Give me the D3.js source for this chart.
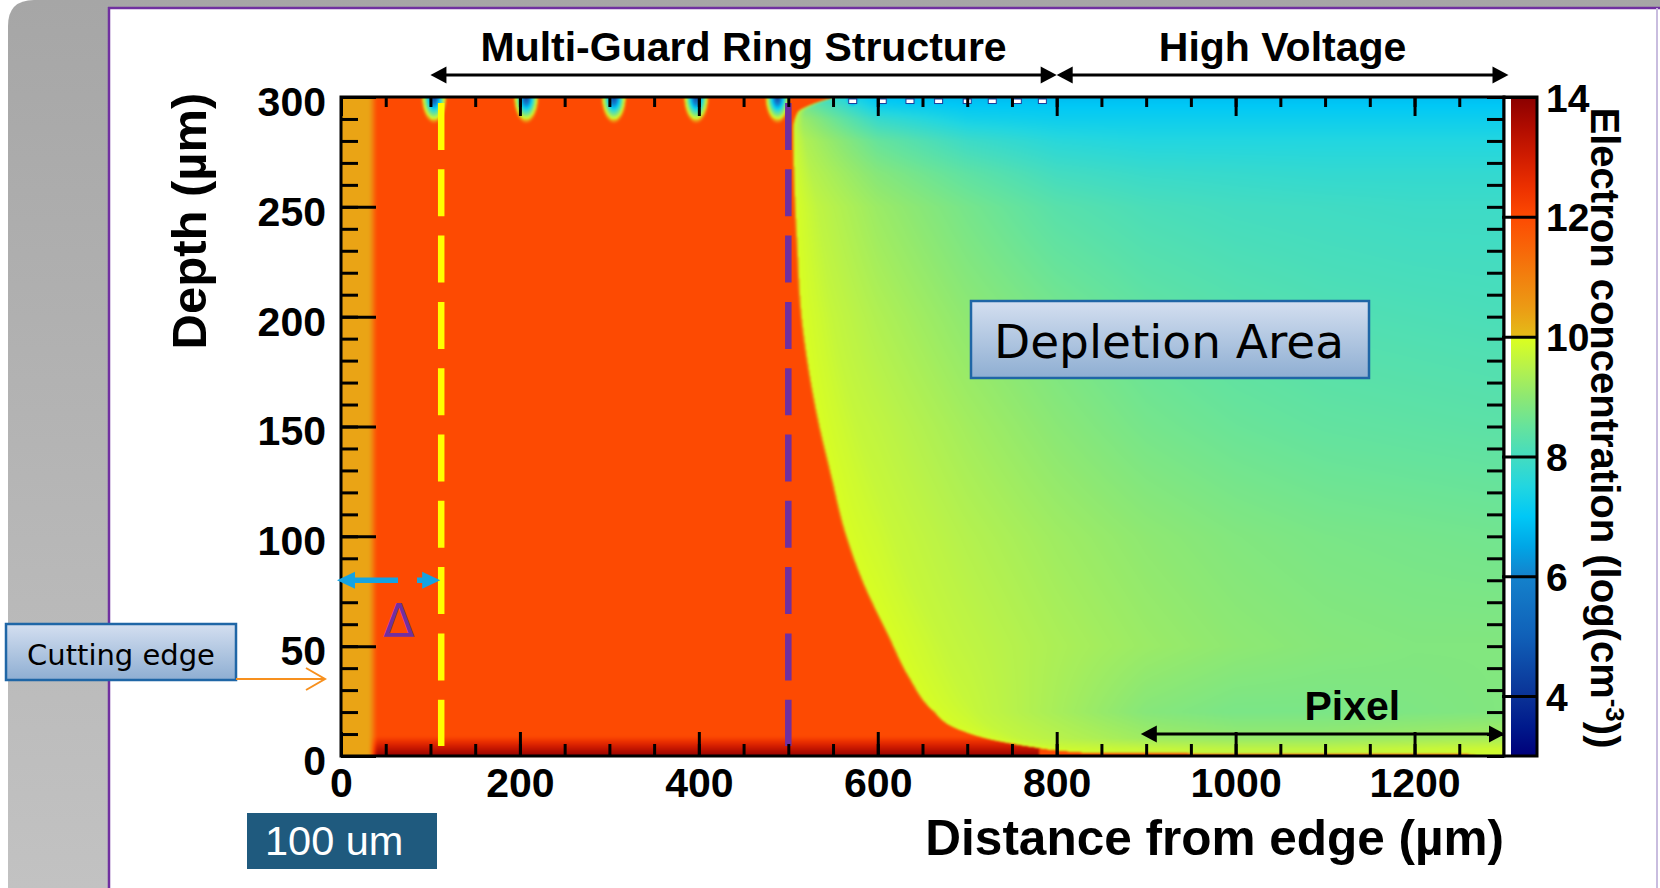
<!DOCTYPE html>
<html><head><meta charset="utf-8">
<script src="https://cdn.jsdelivr.net/npm/d3@7"></script>
<style>html,body{margin:0;padding:0;background:#fff;overflow:hidden}</style>
</head><body>
<svg id="chart" width="1660" height="888" xmlns="http://www.w3.org/2000/svg"></svg>
<script>
// ================= DATA =================
const xDomain = [0, 1300];                 // distance from edge (µm)
const yDomain = [0, 300];                  // depth (µm)
const colorDomain = [3, 14];               // log10 electron concentration
const xTickLabels = [0, 200, 400, 600, 800, 1000, 1200];
const xMinorTicks = d3.range(0, 1301, 50);
const yTickLabels = [0, 50, 100, 150, 200, 250, 300];
const yMinorTicks = d3.range(0, 301, 10);
const colorTickLabels = [4, 6, 8, 10, 12, 14];

// colour map (value -> colour)
const cmapValues = [3, 3.5, 4, 5, 6, 6.5, 7, 7.5, 8, 8.5, 9, 9.5, 9.98, 10.0, 10.5, 11, 11.5, 12, 12.5, 13, 13.5, 14];
const cmapColors = ["#00007a","#001a8c","#0a3296","#1060b8","#1482cc","#00a6e6","#00c8f6","#22d6e0","#44dcc0","#66e39c","#8ee872","#b8f24a","#dcff1e","#e4bc18","#ec9a14","#f2800e","#f86408","#fd4a02","#ec3000","#d01c00","#b00c00","#8a0000"];

// undepleted regions
const edgeWidth = 30;        // µm, cut-edge region
const edgeValue = 10.35;
const bulkValue = 12.0;
const backsideValue = 13.9;
const backsideDepth = 9;     // µm
const backsideEnd = 780;     // µm

// depletion boundary (depth -> x)
const boundaryDepth = [300, 298, 296, 293, 285, 250, 234, 200, 176, 152, 128, 103, 79, 55, 36, 21, 12, 7, 4, 2.5, 1.2, 1.0, 0];
const boundaryX     = [552, 535, 522, 510, 505, 507, 509, 514, 522, 533, 547, 562, 583, 611, 634, 660, 690, 731, 773, 800, 850, 1250, 1270];
// width of yellow band on the depleted side of the boundary
const bandDepth = [300, 280, 250, 150, 50, 10, 0];
const bandWidth = [6, 14, 26, 45, 60, 45, 20];

// depleted-region field
const fieldDist  = [500, 600, 700, 800, 900, 1000, 1100, 1200, 1300];
const fieldDepth = [300, 296, 290, 280, 265, 250, 200, 150, 100, 50, 20, 8, 3, 0];
const fieldValues = [
  [8.5, 6.9, 6.8, 6.8, 6.85, 6.85, 6.85, 6.85, 6.85],
  [9.0, 7.2, 7.0, 7.0, 7.0, 7.0, 7.0, 7.0, 7.0],
  [9.4, 7.8, 7.3, 7.2, 7.2, 7.2, 7.2, 7.2, 7.2],
  [9.6, 8.5, 7.9, 7.6, 7.5, 7.5, 7.5, 7.5, 7.5],
  [9.7, 8.9, 8.4, 8.0, 7.85, 7.8, 7.75, 7.75, 7.75],
  [9.8, 9.15, 8.7, 8.3, 8.1, 8.0, 7.95, 7.9, 7.9],
  [9.9, 9.4, 9.0, 8.7, 8.45, 8.3, 8.2, 8.15, 8.1],
  [9.9, 9.6, 9.25, 8.95, 8.7, 8.55, 8.45, 8.4, 8.35],
  [9.9, 9.75, 9.45, 9.2, 9.0, 8.85, 8.75, 8.7, 8.65],
  [9.9, 9.85, 9.6, 9.35, 9.15, 9.0, 8.9, 8.85, 8.85],
  [9.9, 9.9, 9.7, 9.3, 8.9, 8.75, 8.75, 8.8, 8.85],
  [9.9, 9.9, 9.8, 9.5, 9.2, 9.1, 9.1, 9.2, 9.3],
  [9.95, 9.95, 9.9, 9.8, 9.7, 9.6, 9.6, 9.7, 9.8],
  [9.95, 9.95, 9.9, 9.8, 9.7, 9.6, 9.6, 9.7, 9.8]
];

// guard rings (in the undepleted zone) and small field plates
const guardRings = [104, 207, 305, 397, 488];
const ringCoreValue = 4.0;
const ringSize = [12, 10];   // µm half-width, depth
const fieldPlates = [572, 605, 636, 668, 700, 728, 756, 784];
const plateCoreValue = 5.3;
const plateSize = [7, 4];

// annotations
const cutLineX = 112;      // yellow dashed line (µm)
const ringEndX = 500;      // purple dashed line (µm)
const guardSpan = [100, 800];
const hvSpan = [800, 1305];
const pixelSpan = [894, 1300];
const pixelDepth = 10;

// ================= LAYOUT =================
const W = 1660, H = 888;
const P = {l: 341, r: 1504, t: 97, b: 756};
const svg = d3.select("#chart");
const x = d3.scaleLinear(xDomain, [P.l, P.r]);
const y = d3.scaleLinear(yDomain, [P.b, P.t]);
const color = d3.scaleLinear(cmapValues, cmapColors).clamp(true);
const cY = d3.scaleLinear(colorDomain, [P.b, P.t]);
const BOLD = "'Liberation Sans', Arial, Helvetica, sans-serif";
const VERD = "'DejaVu Sans', Verdana, sans-serif";

const defs = svg.append("defs");
const gg = defs.append("linearGradient").attr("id","grayg").attr("x1",0).attr("y1",0).attr("x2",0).attr("y2",1);
gg.append("stop").attr("offset",0).attr("stop-color","#a6a6a6");
gg.append("stop").attr("offset",1).attr("stop-color","#c2c2c2");
const bg = defs.append("linearGradient").attr("id","boxg").attr("x1",0).attr("y1",0).attr("x2",0).attr("y2",1);
bg.append("stop").attr("offset",0).attr("stop-color","#d4dff0");
bg.append("stop").attr("offset",1).attr("stop-color","#8eaed2");
const cg = defs.append("linearGradient").attr("id","cbar").attr("x1",0).attr("y1",1).attr("x2",0).attr("y2",0);
cmapValues.forEach((v,i)=>cg.append("stop").attr("offset",(v-colorDomain[0])/(colorDomain[1]-colorDomain[0])).attr("stop-color",cmapColors[i]));
defs.append("clipPath").attr("id","plotclip").append("rect").attr("x",P.l).attr("y",P.t).attr("width",P.r-P.l).attr("height",P.b-P.t);

// slide background
svg.append("rect").attr("width",W).attr("height",H).attr("fill","#fff");
svg.append("path").attr("d",`M8,${H} L8,26 Q8,0 34,0 L${W},0 L${W},${H} Z`).attr("fill","url(#grayg)");
svg.append("rect").attr("x",109).attr("y",8).attr("width",W-109).attr("height",H-8).attr("fill","#fff");
svg.append("line").attr("x1",109).attr("y1",7).attr("x2",109).attr("y2",H).attr("stroke","#7030a0").attr("stroke-width",2.5);
svg.append("line").attr("x1",108).attr("y1",8).attr("x2",W).attr("y2",8).attr("stroke","#7030a0").attr("stroke-width",2.5);
svg.append("line").attr("x1",W-3).attr("y1",8).attr("x2",W-3).attr("y2",H).attr("stroke","#c9bddf").attr("stroke-width",2);

// ================= FIELD MAP =================
// smooth boundary curve through the read points
const bPath = defs.append("path").attr("d", d3.line().x(d=>x(d[0])).y(d=>y(d[1])).curve(d3.curveMonotoneY)(boundaryX.map((v,i)=>[v,boundaryDepth[i]])));
const bNode = bPath.node(), bLen = bNode.getTotalLength();
const bSamples = d3.range(0, 6001).map(k => bNode.getPointAtLength(bLen*k/6000));
const bSY = bSamples.map(p=>p.y), bSX = bSamples.map(p=>p.x);
function boundaryAtPx(py){
  const i = Math.max(1, Math.min(bSY.length-1, d3.bisectLeft(bSY, py)));
  const y0=bSY[i-1], y1=bSY[i];
  const t = y1>y0 ? (py-y0)/(y1-y0) : 0;
  return x.invert(bSX[i-1] + (bSX[i]-bSX[i-1])*Math.max(0,Math.min(1,t)));
}
const bandScale = d3.scaleLinear(bandDepth, bandWidth).clamp(true);
const backScale = d3.scaleLinear([0, backsideDepth], [backsideValue, bulkValue]).clamp(true);
const colScales = fieldDist.map((_, j) => d3.scaleLinear(fieldDepth, fieldValues.map(r => r[j])).clamp(true));
const YB = 9.97;

const cw = P.r-P.l, ch = P.b-P.t;
const canvas = document.createElement("canvas");
canvas.width = cw; canvas.height = ch;
const ctx = canvas.getContext("2d");
const img = ctx.createImageData(cw, ch);
const lut = [];
for (let k=0;k<=1100;k++){ const c=d3.rgb(color(3+k*0.01)); lut.push([c.r,c.g,c.b]); }
const smooth = t => t<=0?0:t>=1?1:t*t*(3-2*t);
const soft = 2.0;

for (let j=0;j<ch;j++){
  const py = P.t + j + 0.5;
  const d = y.invert(py);
  const row = d3.scaleLinear(fieldDist, colScales.map(s=>s(d))).clamp(true);
  const xb = boundaryAtPx(py), band = bandScale(d);
  for (let i=0;i<cw;i++){
    const xv = x.invert(P.l + i + 0.5);
    let vu = bulkValue;
    if (xv < backsideEnd) vu = backScale(d);
    vu = edgeValue + (vu-edgeValue)*smooth((xv-edgeWidth)/12);
    let v;
    if (xv < xb - soft) v = vu;
    else {
      const gv = row(xv);
      const t = Math.max(0,(xv-xb)/band);
      const vd = t < 1 ? YB + (gv-YB)*Math.sqrt(t) : gv;
      const s = smooth((xv-(xb-soft))/(2*soft));
      v = vu + (vd-vu)*s;
    }
    for (const r of guardRings){
      const rr = Math.hypot((xv-r)/ringSize[0], (300-d)/ringSize[1]);
      if (rr < 1) v = ringCoreValue + (YB-ringCoreValue)*rr;
      else if (rr < 1.25) v = YB + (v-YB)*smooth((rr-1)/0.25);
    }
    for (const r of fieldPlates){
      const rr = Math.hypot((xv-r)/plateSize[0], (300-d)/plateSize[1]);
      if (rr < 1) v = Math.min(v, plateCoreValue + (7.2-plateCoreValue)*rr);
    }
    const c = lut[Math.max(0,Math.min(1100,Math.round((v-3)*100)))];
    const o = (j*cw+i)*4;
    img.data[o]=c[0]; img.data[o+1]=c[1]; img.data[o+2]=c[2]; img.data[o+3]=255;
  }
}
ctx.putImageData(img,0,0);
// light softening like the original rendering
const canvas2 = document.createElement("canvas");
canvas2.width = cw; canvas2.height = ch;
const ctx2 = canvas2.getContext("2d");
ctx2.drawImage(canvas,0,0);
ctx2.filter = "blur(1.3px)";
ctx2.drawImage(canvas,0,0);
const plotG = svg.append("g").attr("clip-path","url(#plotclip)");
plotG.append("image").attr("x",P.l).attr("y",P.t).attr("width",cw).attr("height",ch)
  .attr("preserveAspectRatio","none").attr("href",canvas2.toDataURL());

// field plates (metal) at the top
plotG.selectAll("rect.plate").data(fieldPlates).join("rect").attr("class","plate")
  .attr("x",d=>x(d)-4).attr("y",P.t+2).attr("width",8).attr("height",4.5)
  .attr("fill","#fff").attr("stroke","#1b3f9e").attr("stroke-width",1);

// dashed lines
[[cutLineX,"#ffff00"],[ringEndX,"#7030a0"]].forEach(([v,c])=>{
  svg.append("line").attr("x1",x(v)).attr("x2",x(v)).attr("y1",P.t+6).attr("y2",P.b-10)
    .attr("stroke",c).attr("stroke-width",6.5).attr("stroke-dasharray","47 19.3");
});

// ================= AXES =================
function styleAxis(g){ g.select(".domain").remove(); g.selectAll("line").attr("stroke","#000").attr("stroke-width",3);
  g.selectAll("text").attr("fill","#000").attr("font-family",BOLD).attr("font-weight","bold").attr("font-size",40); }
const fmt = d3.format("d");
svg.append("g").attr("transform",`translate(${P.l},0)`).call(d3.axisLeft(y).tickValues(yMinorTicks).tickSizeInner(-17).tickFormat("")).call(styleAxis);
svg.append("g").attr("transform",`translate(${P.l},0)`).call(d3.axisLeft(y).tickValues(yTickLabels).tickSizeInner(-35).tickPadding(15).tickFormat(fmt)).call(styleAxis)
  .selectAll("text").attr("dy","0.45em").attr("font-size",41);
svg.append("g").attr("transform",`translate(${P.r},0)`).call(d3.axisRight(y).tickValues(yMinorTicks).tickSizeInner(-17).tickFormat("")).call(styleAxis);
svg.append("g").attr("transform",`translate(0,${P.b})`).call(d3.axisBottom(x).tickValues(xMinorTicks).tickSizeInner(-12).tickFormat("")).call(styleAxis);
svg.append("g").attr("transform",`translate(0,${P.b})`).call(d3.axisBottom(x).tickValues(xTickLabels).tickSizeInner(-24).tickPadding(12).tickFormat(fmt)).call(styleAxis)
  .selectAll("text").attr("font-size",41);
svg.append("g").attr("transform",`translate(0,${P.t})`).call(d3.axisTop(x).tickValues(xMinorTicks).tickSizeInner(-10).tickFormat("")).call(styleAxis);
svg.append("g").attr("transform",`translate(0,${P.t})`).call(d3.axisTop(x).tickValues(xTickLabels).tickSizeInner(-19).tickFormat("")).call(styleAxis);
svg.append("rect").attr("x",P.l).attr("y",P.t).attr("width",P.r-P.l).attr("height",P.b-P.t)
  .attr("fill","none").attr("stroke","#000").attr("stroke-width",3);

// axis titles
svg.append("text").attr("x",P.r).attr("y",855).attr("text-anchor","end")
  .attr("font-family",BOLD).attr("font-weight","bold").attr("font-size",49.5).text("Distance from edge (\u00b5m)");
svg.append("text").attr("transform","translate(206,221) rotate(-90)").attr("text-anchor","middle")
  .attr("font-family",BOLD).attr("font-weight","bold").attr("font-size",49).text("Depth (\u00b5m)");

// ================= COLORBAR =================
const cb = {x0: P.r, x1: 1537, cx: 1511};
svg.append("rect").attr("x",cb.x0).attr("y",P.t).attr("width",cb.x1-cb.x0).attr("height",P.b-P.t).attr("fill","#fff");
svg.append("rect").attr("x",cb.cx).attr("y",P.t).attr("width",cb.x1-cb.cx).attr("height",P.b-P.t).attr("fill","url(#cbar)");
svg.append("g").attr("transform",`translate(${cb.x1},0)`).call(d3.axisRight(cY).tickValues(colorTickLabels).tickSizeInner(-35).tickPadding(9).tickFormat(fmt)).call(styleAxis)
  .selectAll("text").attr("dy","0.36em").attr("font-size",39);
svg.append("rect").attr("x",cb.x0).attr("y",P.t).attr("width",cb.x1-cb.x0).attr("height",P.b-P.t)
  .attr("fill","none").attr("stroke","#000").attr("stroke-width",3);
const ct = svg.append("text").attr("transform","translate(1591,428) rotate(90)").attr("text-anchor","middle")
  .attr("font-family",BOLD).attr("font-weight","bold").attr("font-size",40);
ct.append("tspan").text("Electron concentration (log(cm");
ct.append("tspan").attr("font-size",26).attr("dy",-15).text("-3");
ct.append("tspan").attr("dy",15).text("))");

// ================= ANNOTATIONS =================
function arrowHead(g, tipX, tipY, dir, len, half, col){
  g.append("path").attr("d",`M${tipX},${tipY} L${tipX-dir*len},${tipY-half} L${tipX-dir*len},${tipY+half} Z`).attr("fill",col);
}
function dblArrow(a, b, yy){
  const g = svg.append("g");
  g.append("line").attr("x1",a+10).attr("x2",b-10).attr("y1",yy).attr("y2",yy).attr("stroke","#000").attr("stroke-width",3);
  arrowHead(g,a,yy,-1,16,8.5,"#000"); arrowHead(g,b,yy,1,16,8.5,"#000");
}
dblArrow(x(guardSpan[0]), x(guardSpan[1]), 75);
dblArrow(x(hvSpan[0]), x(hvSpan[1]), 75);
dblArrow(x(pixelSpan[0]), x(pixelSpan[1])+1, y(pixelDepth));
function boldText(t, xx, yy){ svg.append("text").attr("x",xx).attr("y",yy).attr("text-anchor","middle")
  .attr("font-family",BOLD).attr("font-weight","bold").attr("font-size",41).text(t); }
boldText("Multi-Guard Ring Structure", (x(guardSpan[0])+x(guardSpan[1]))/2, 61);
boldText("High Voltage", (x(hvSpan[0])+x(hvSpan[1]))/2, 61);
boldText("Pixel", (x(pixelSpan[0])+x(pixelSpan[1]))/2 + 30, 720);

// Depletion Area box
svg.append("rect").attr("x",971).attr("y",301).attr("width",398).attr("height",77)
  .attr("fill","url(#boxg)").attr("stroke","#1f66a6").attr("stroke-width",2.5);
svg.append("text").attr("x",1169).attr("y",358).attr("text-anchor","middle")
  .attr("font-family",VERD).attr("font-size",47).attr("fill","#000").text("Depletion Area");

// Cutting edge box + arrow
svg.append("rect").attr("x",6).attr("y",624).attr("width",230).attr("height",56)
  .attr("fill","url(#boxg)").attr("stroke","#1f66a6").attr("stroke-width",2.5);
svg.append("text").attr("x",121).attr("y",665).attr("text-anchor","middle")
  .attr("font-family",VERD).attr("font-size",29).attr("fill","#000").text("Cutting edge");
svg.append("line").attr("x1",236).attr("x2",325).attr("y1",679).attr("y2",679).attr("stroke","#f7901e").attr("stroke-width",2);
svg.append("path").attr("d","M306,668 L325,679 L306,690").attr("fill","none").attr("stroke","#f7901e").attr("stroke-width",2);

// 100 um scale label
svg.append("rect").attr("x",247).attr("y",813).attr("width",190).attr("height",56).attr("fill","#1f5a7e");
svg.append("text").attr("x",265).attr("y",855).attr("font-family","'Liberation Sans', Arial, sans-serif")
  .attr("font-size",41.5).attr("fill","#fff").text("100 um");

// Delta arrow (edge to yellow line)
const dY = y(80);
const ag = svg.append("g");
ag.append("line").attr("x1",x(0)+14).attr("x2",x(cutLineX)-17).attr("y1",dY).attr("y2",dY)
  .attr("stroke","#14a3e2").attr("stroke-width",5.5).attr("stroke-dasharray","43 19 6 50");
arrowHead(ag, x(0)-4, dY, -1, 18, 8.5, "#14a3e2");
arrowHead(ag, x(cutLineX)-1, dY, 1, 18, 8.5, "#14a3e2");
svg.append("text").attr("x",399).attr("y",637).attr("text-anchor","middle")
  .attr("font-family",VERD).attr("font-size",46).attr("fill","#7030a0").text("\u0394");
</script>
</body></html>
